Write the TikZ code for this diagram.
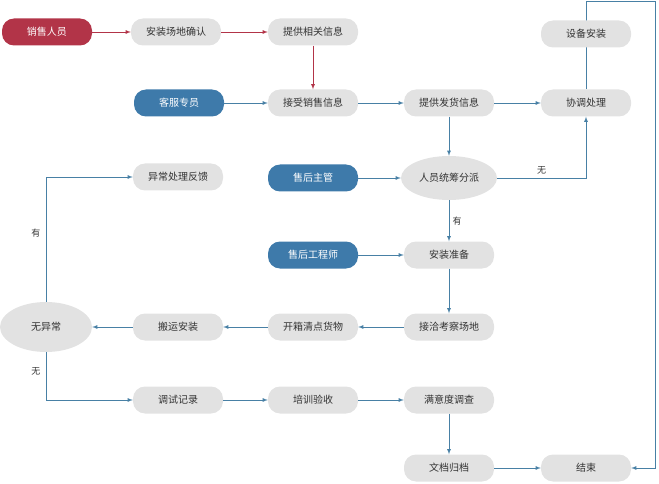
\documentclass[tikz,border=0pt]{standalone}
\usepackage{fontspec}
\setmainfont{Noto Sans CJK SC}
\usetikzlibrary{shapes.geometric,backgrounds}
\definecolor{salesred}{RGB}{178,52,72}
\definecolor{staffblue}{RGB}{62,122,170}
\definecolor{boxgray}{RGB}{226,226,226}
\definecolor{linkblue}{RGB}{72,128,165}
\tikzset{
  stepbox/.style={rounded corners=12pt, fill=boxgray, minimum width=90pt, minimum height=27pt, font=\fontsize{10}{12}\selectfont, text=black!80},
  rolebox/.style={stepbox, fill=staffblue, text=white},
  salesbox/.style={stepbox, fill=salesred, text=white},
  choice/.style={ellipse, fill=boxgray, minimum width=96pt, minimum height=44pt, font=\fontsize{10}{12}\selectfont, text=black!80},
  link/.style={linkblue, thick, -latex},
  salelink/.style={salesred, thick, -latex},
  tag/.style={text=black!80, font=\small},
}
\begin{document}
\begin{tikzpicture}[x=1pt,y=-1pt]
            \useasboundingbox (0,0) rectangle (659,484);

            \node[salesbox] (sales) at (47,32) {销售人员};
            \node[stepbox] (site) at (176,32) {安装场地确认};
            \node[stepbox] (info) at (313,32) {提供相关信息};
            \node[stepbox] (install) at (586,34) {设备安装};

            \node[rolebox] (service) at (179,103) {客服专员};
            \node[stepbox] (receive) at (313,103) {接受销售信息};
            \node[stepbox] (ship) at (449,103) {提供发货信息};
            \node[stepbox] (coord) at (586,103) {协调处理};

            \node[stepbox] (feedback) at (178,177) {异常处理反馈};
            \node[rolebox] (manager) at (313,178) {售后主管};
            \node[choice] (assign) at (449,178) {人员统筹分派};

            \node[rolebox] (engineer) at (313,255) {售后工程师};
            \node[stepbox] (prepare) at (449,255) {安装准备};

            \node[choice, minimum width=92pt, minimum height=50pt] (check) at (46,327) {无异常};
            \node[stepbox] (carry) at (178,327) {搬运安装};
            \node[stepbox] (unpack) at (313,327) {开箱清点货物};
            \node[stepbox] (survey) at (449,327) {接洽考察场地};

            \node[stepbox] (debug) at (178,400) {调试记录};
            \node[stepbox] (train) at (313,400) {培训验收};
            \node[stepbox] (satisfy) at (449,400) {满意度调查};

            \node[stepbox] (archive) at (449,468) {文档归档};
            \node[stepbox] (finish) at (586,468) {结束};

            \draw[salelink] (sales) -- (site);
            \draw[salelink] (site) -- (info);
            \draw[salelink] (info) -- (receive);

            \draw[link] (service) -- (receive);
            \draw[link] (receive) -- (ship);
            \draw[link] (ship) -- (coord);
            \draw[link] (ship) -- (assign);
            \begin{scope}[on background layer]
              \draw[link] (coord.north) -- (586,1) -- (655,1) -- (655,468) -- (finish.east);
            \end{scope}
            \draw[link] (assign.east) -- (586,178) node[midway, above, tag] {无} -- (coord.south);
            \draw[link] (manager) -- (assign);
            \draw[link] (assign) -- node[right, tag] {有} (prepare);
            \draw[link] (engineer) -- (prepare);
            \draw[link] (prepare) -- (survey);
            \draw[link] (survey) -- (unpack);
            \draw[link] (unpack) -- (carry);
            \draw[link] (carry) -- (check);
            \draw[link] (check.north) -- (46,177) node[pos=0.55, left=2pt, tag] {有} -- (feedback.west);
            \draw[link] (check.south) -- (46,400) node[pos=0.4, left=2pt, tag] {无} -- (debug.west);
            \draw[link] (debug) -- (train);
            \draw[link] (train) -- (satisfy);
            \draw[link] (satisfy) -- (archive);
            \draw[link] (archive) -- (finish);
        \end{tikzpicture}
\end{document}
